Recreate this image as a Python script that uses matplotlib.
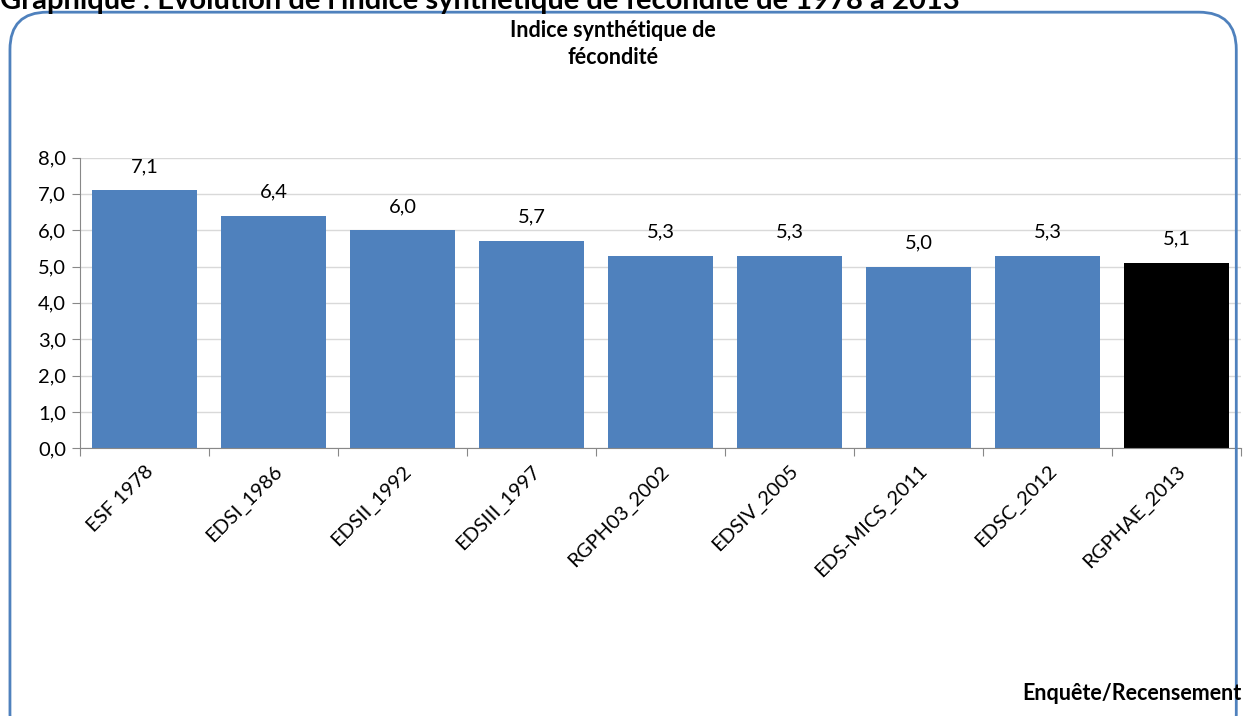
import matplotlib.pyplot as plt
from matplotlib.patches import FancyBboxPatch

enquetes = ["ESF 1978", "EDSI_1986", "EDSII_1992", "EDSIII_1997", "RGPH03_2002",
            "EDSIV_2005", "EDS-MICS_2011", "EDSC_2012", "RGPHAE_2013"]
isf = [7.1, 6.4, 6.0, 5.7, 5.3, 5.3, 5.0, 5.3, 5.1]
couleurs = ["#4F81BD"] * 8 + ["#000000"]

plt.rcParams["font.family"] = ["Lato", "DejaVu Sans"]

fig = plt.figure(figsize=(12.45, 7.16), dpi=100)

# cadre arrondi
cadre = FancyBboxPatch((0.008, -0.05), 0.985, 1.033, transform=fig.transFigure,
                       boxstyle="round,pad=0,rounding_size=0.03",
                       facecolor="none", edgecolor="#4F81BD", linewidth=2,
                       mutation_aspect=1245 / 716)
fig.patches.append(cadre)

# titre coupé en haut, comme sur l'original
fig.text(0.0, 0.998, "Graphique : Evolution de l'indice synthétique de fécondité de 1978 à 2013",
         fontsize=21, fontweight="bold", ha="left", va="center")

ax = fig.add_axes([0.0643, 0.374, 0.9325, 0.406])
x = range(len(enquetes))
bars = ax.bar(x, isf, width=0.81, color=couleurs)

for b, v in zip(bars, isf):
    ax.text(b.get_x() + b.get_width() / 2, v + 0.42, f"{v:.1f}".replace(".", ","),
            ha="center", va="bottom", fontsize=14.5)

ax.set_xlim(-0.5, len(enquetes) - 0.5)
ax.set_ylim(0, 8)
ax.set_yticks(range(0, 9))
ax.set_yticklabels([f"{v:.1f}".replace(".", ",") for v in range(0, 9)], fontsize=14.5)
ax.set_xticks([i - 0.5 for i in range(len(enquetes) + 1)])
ax.set_xticklabels([])
ax.set_xticks(list(x), minor=True)
ax.set_xticklabels(enquetes, minor=True, rotation=45, ha="right", va="top",
                   rotation_mode="anchor", fontsize=14.5)
ax.tick_params(axis="x", which="minor", length=0, pad=10)
ax.tick_params(axis="x", which="major", length=6, color="#888888", direction="out")
ax.tick_params(axis="y", length=6, color="#888888", direction="out", pad=4)

ax.grid(axis="y", color="#d9d9d9", linewidth=1)
ax.set_axisbelow(True)
for s in ["top", "right"]:
    ax.spines[s].set_visible(False)
for s in ["left", "bottom"]:
    ax.spines[s].set_color("#888888")

fig.text(0.492, 0.958, "Indice synthétique de", fontsize=15.5, fontweight="bold",
         ha="center", va="center")
fig.text(0.492, 0.919, "fécondité", fontsize=15.5, fontweight="bold",
         ha="center", va="center")
fig.text(0.997, 0.032, "Enquête/Recensement", fontsize=15.5, fontweight="bold",
         ha="right", va="center")

fig.savefig("out.png")
